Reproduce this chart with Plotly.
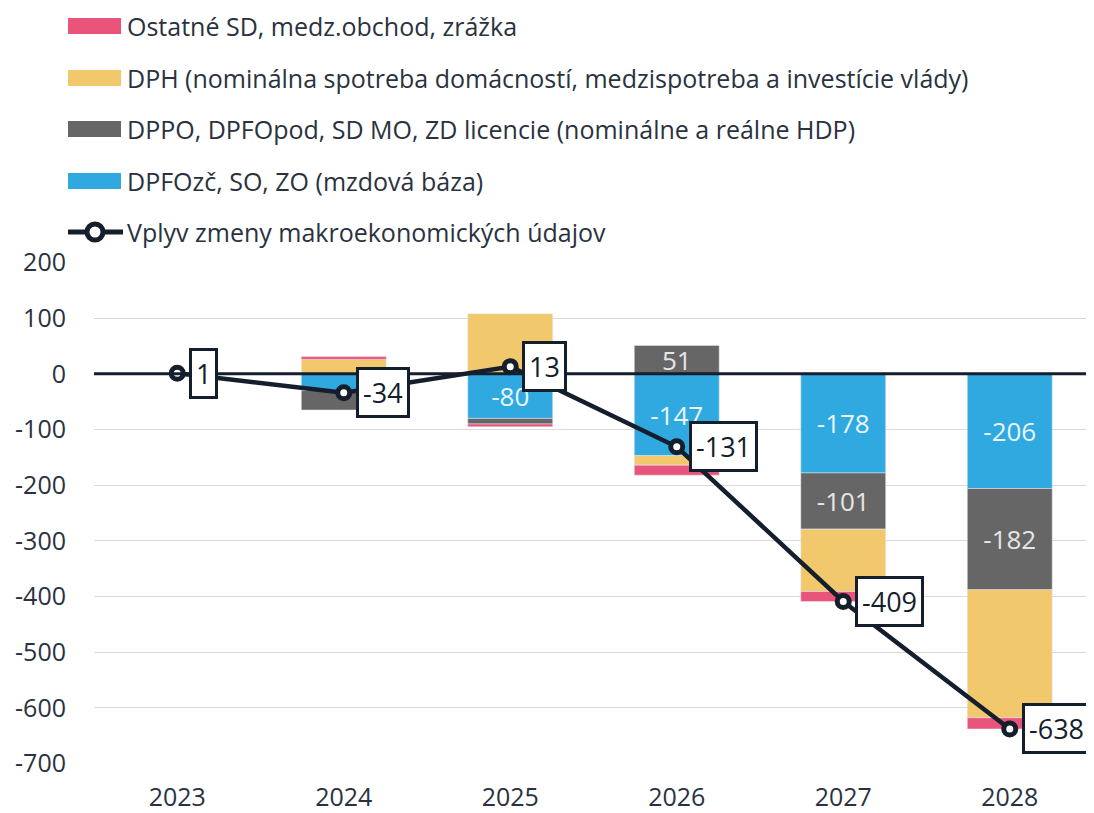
import plotly.graph_objects as go

# ---- data ----
years = ["2023", "2024", "2025", "2026", "2027", "2028"]
mzdova = [0, -30, -80, -147, -178, -206]      # DPFOzč, SO, ZO (mzdová báza)
hdp = [0, -35, -10, 51, -101, -182]           # DPPO, DPFOpod, SD MO, ZD licencie
dph = [0, 26, 108, -17, -112, -230]           # DPH
ostatne = [0, 5, -5, -18, -18, -20]           # Ostatné SD, medz.obchod, zrážka
vplyv = [1, -34, 13, -131, -409, -638]        # Vplyv zmeny makroekonomických údajov
mzdova_labels = ["", "", "-80", "-147", "-178", "-206"]
hdp_labels = ["", "", "", "51", "-101", "-182"]
y_tickvals = [200, 100, 0, -100, -200, -300, -400, -500, -600, -700]
y_ticktext = ["200", "100", "0", "-100", "-200", "-300", "-400", "-500", "-600", "-700"]

legend_names = [
    "Ostatné SD, medz.obchod, zrážka",
    "DPH (nominálna spotreba domácností, medzispotreba a investície vlády)",
    "DPPO, DPFOpod, SD MO, ZD licencie (nominálne a reálne HDP)",
    "DPFOzč, SO, ZO (mzdová báza)",
    "Vplyv zmeny makroekonomických údajov",
]

# ---- style ----
C_RED = "#E9557A"
C_YEL = "#F1C86C"
C_GRAY = "#666666"
C_BLUE = "#2FA9E0"
C_DARK = "#141E2C"
C_TEXT = "#2A3240"
FONT = "Open Sans"

# the page body adds an 8px offset; figure is sized so it ends at the window edge
OFF = 8
W, H = 1094 - OFF, 813 - OFF
L, R, T, B = 94 - OFF, 1, 262 - OFF, 49
PW, PH = W - L - R, H - T - B


def px_x(p):
    """page pixel x -> paper coordinate"""
    return (p - OFF - L) / PW


def px_y(p):
    """page pixel y -> paper coordinate"""
    return (H - B - (p - OFF)) / PH


fig = go.Figure()

fig.add_trace(go.Bar(x=years, y=mzdova, name=legend_names[3], marker_color=C_BLUE,
                     text=mzdova_labels, textposition="inside", insidetextanchor="middle",
                     constraintext="none", textangle=0,
                     textfont=dict(color="#EAF6FC", size=26, family=FONT)))
fig.add_trace(go.Bar(x=years, y=hdp, name=legend_names[2], marker_color=C_GRAY,
                     text=hdp_labels, textposition="inside", insidetextanchor="middle",
                     constraintext="none", textangle=0,
                     textfont=dict(color="#E6E6E6", size=26, family=FONT)))
fig.add_trace(go.Bar(x=years, y=dph, name=legend_names[1], marker_color=C_YEL))
fig.add_trace(go.Bar(x=years, y=ostatne, name=legend_names[0], marker_color=C_RED))
fig.add_trace(go.Scatter(x=years, y=vplyv, name=legend_names[4], mode="lines+markers",
                         line=dict(color=C_DARK, width=4.5),
                         marker=dict(symbol="circle", size=12, color="white",
                                     line=dict(color=C_DARK, width=5))))

# zero line above bars
shapes = [dict(type="line", xref="paper", yref="y", x0=0, x1=1, y0=0, y1=0,
               line=dict(color=C_DARK, width=3), layer="above")]

annotations = []
# value boxes for the line (category index used as x position)
for i, v in enumerate(vplyv):
    annotations.append(dict(x=i, y=v, xref="x", yref="y", text=str(v), showarrow=False,
                            xanchor="left", yanchor="middle", xshift=12,
                            font=dict(size=27, color=C_DARK, family=FONT),
                            bgcolor="white", bordercolor=C_DARK, borderwidth=3, borderpad=4))

# manual legend
centers = [26, 78, 129, 181, 232]
colors = [C_RED, C_YEL, C_GRAY, C_BLUE]
for i, c in enumerate(colors):
    yc = centers[i]
    shapes.append(dict(type="rect", xref="paper", yref="paper",
                       x0=px_x(68), x1=px_x(121), y0=px_y(yc + 8), y1=px_y(yc - 8),
                       fillcolor=c, line=dict(width=0), layer="above"))
yc = centers[4]
shapes.append(dict(type="line", xref="paper", yref="paper",
                   x0=px_x(68), x1=px_x(123), y0=px_y(yc), y1=px_y(yc),
                   line=dict(color=C_DARK, width=5), layer="above"))
shapes.append(dict(type="circle", xref="paper", yref="paper",
                   x0=px_x(87), x1=px_x(103), y0=px_y(yc + 8), y1=px_y(yc - 8),
                   fillcolor="white", line=dict(color=C_DARK, width=5), layer="above"))
for i, name in enumerate(legend_names):
    annotations.append(dict(x=px_x(125), y=px_y(centers[i]), xref="paper", yref="paper",
                            text=name, showarrow=False, xanchor="left", yanchor="middle",
                            font=dict(size=25, color=C_TEXT, family=FONT)))

fig.update_layout(
    width=W, height=H, autosize=False,
    margin=dict(l=L, r=R, t=T, b=B, pad=0, autoexpand=False),
    barmode="relative", bargap=0.49,
    plot_bgcolor="white", paper_bgcolor="white",
    showlegend=False,
    font=dict(family=FONT, size=25, color=C_TEXT),
    shapes=shapes, annotations=annotations,
    xaxis=dict(type="category", range=[-0.5, 5.5], showgrid=False, zeroline=False,
               showline=False, ticks="", ticklabelstandoff=16, automargin=False,
               tickfont=dict(size=25, color=C_TEXT)),
    yaxis=dict(range=[-701, 201], tickvals=y_tickvals, ticktext=y_ticktext,
               showgrid=True, gridcolor="#D9D9D9", gridwidth=1, zeroline=False,
               showline=False, ticks="", ticklabelstandoff=27, automargin=False,
               tickfont=dict(size=25, color=C_TEXT)),
)

fig.write_html("out.html")
